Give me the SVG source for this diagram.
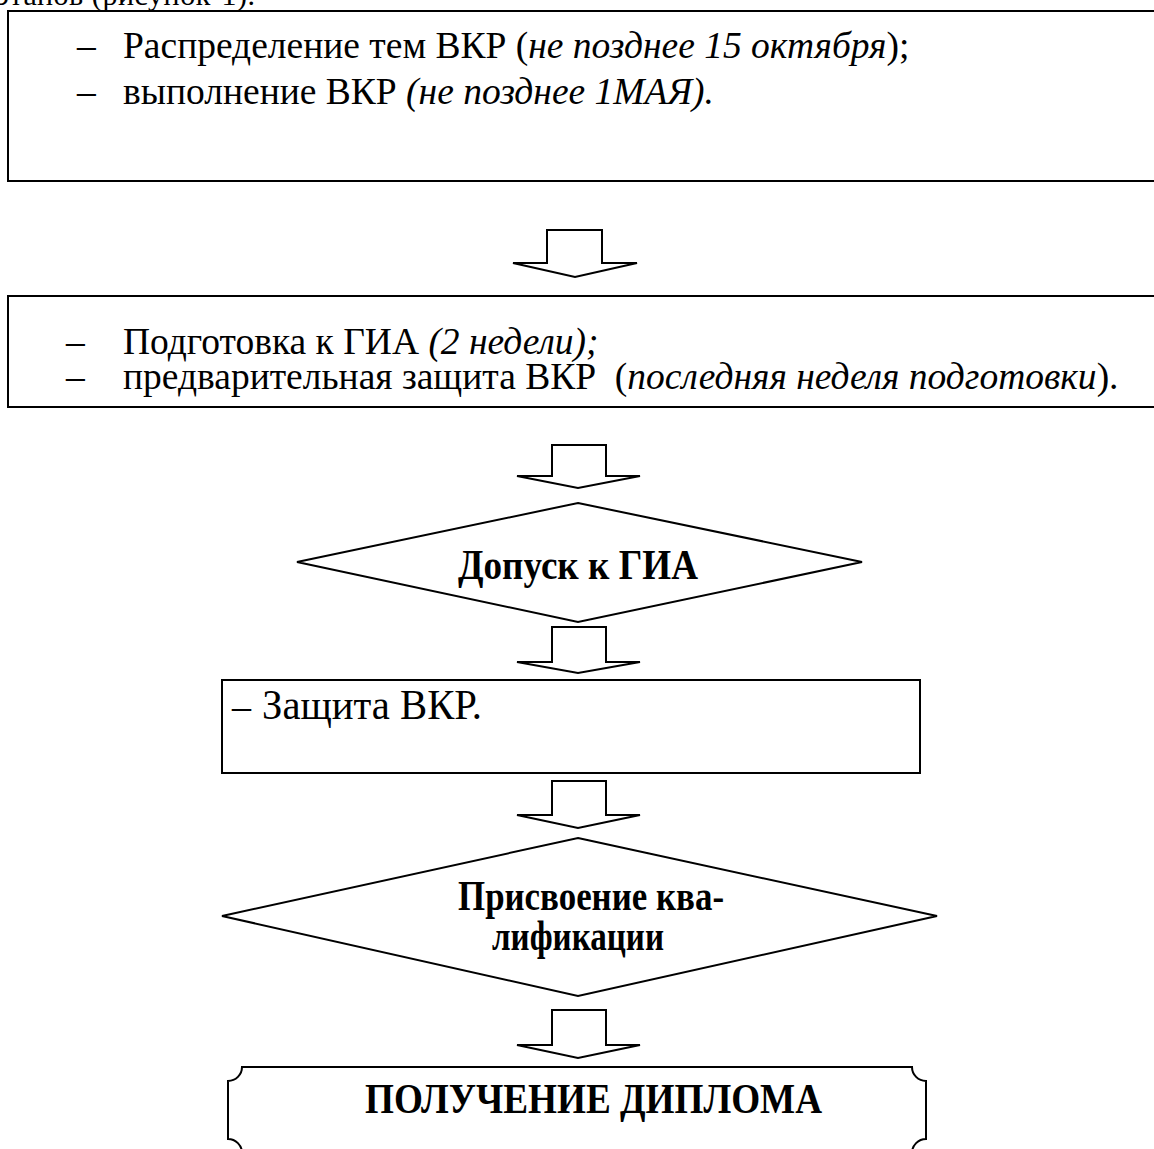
<svg xmlns="http://www.w3.org/2000/svg" width="1154" height="1149" viewBox="0 0 1154 1149">
<style>
.sh{fill:#fff;stroke:#000;stroke-width:2}
.t{font-family:"Liberation Serif","Times New Roman",serif;fill:#000}
.r{font-size:37.5px}
.b{font-size:42px;font-weight:bold}
.i{font-style:italic}
</style>
<rect width="1154" height="1149" fill="#fff"/>
<text class="t" x="-4" y="5" font-size="30" textLength="259">этапов (рисунок-1).</text>
<g id="box1">
<rect class="sh" x="8" y="11" width="1160" height="170"/>
<text class="t r" x="77" y="58">–</text>
<text class="t r" x="123" y="58">Распределение тем ВКР (<tspan class="i">не позднее 15 октября</tspan>);</text>
<text class="t r" x="77" y="104">–</text>
<text class="t r" x="123" y="104">выполнение ВКР <tspan class="i">(не позднее 1МАЯ).</tspan></text>
</g>
<g id="box2">
<rect class="sh" x="8" y="296" width="1160" height="111"/>
<text class="t r" x="66" y="354">–</text>
<text class="t r" x="123" y="354">Подготовка к ГИА <tspan class="i">(2 недели);</tspan></text>
<text class="t r" x="66" y="389">–</text>
<text class="t r" x="123" y="389">предварительная защита ВКР&#160; (<tspan class="i">последняя неделя подготовки</tspan>).</text>
</g>
<g id="diamond1">
<polygon class="sh" points="578,503 862,562 578,622 297,562"/>
<text class="t b" x="458" y="579" textLength="240" lengthAdjust="spacingAndGlyphs">Допуск к ГИА</text>
</g>
<g id="box3">
<rect class="sh" x="222" y="680" width="698" height="93"/>
<text class="t" x="232" y="719" font-size="38">–</text>
<text class="t" x="262" y="719" font-size="42" textLength="220" lengthAdjust="spacingAndGlyphs">Защита ВКР.</text>
</g>
<g id="diamond2">
<polygon class="sh" points="578,838 937,916 578,996 222,916"/>
<text class="t b" x="458" y="910" textLength="266" lengthAdjust="spacingAndGlyphs">Присвоение ква-</text>
<text class="t b" x="492" y="950" textLength="172" lengthAdjust="spacingAndGlyphs">лификации</text>
</g>
<g id="final">
<path class="sh" d="M242,1067 H912 A14 14 0 0 0 926,1081 V1139 A14 14 0 0 0 912,1153 H242 A14 14 0 0 0 228,1139 V1081 A14 14 0 0 0 242,1067 Z"/>
<text class="t b" x="365" y="1113" textLength="457" lengthAdjust="spacingAndGlyphs">ПОЛУЧЕНИЕ ДИПЛОМА</text>
</g>
<g id="connectors">
<polygon class="sh" points="547,230 602,230 602,263 637,263 575,277 513,263 547,263"/>
<polygon class="sh" points="552,445 606,445 606,476 640,476 578,488 517,476 552,476"/>
<polygon class="sh" points="552,627 606,627 606,662 640,662 578,673 517,662 552,662"/>
<polygon class="sh" points="552,781 606,781 606,815 640,815 578,828 517,815 552,815"/>
<polygon class="sh" points="552,1010 606,1010 606,1045 640,1045 578,1058 517,1045 552,1045"/>
</g>
</svg>
